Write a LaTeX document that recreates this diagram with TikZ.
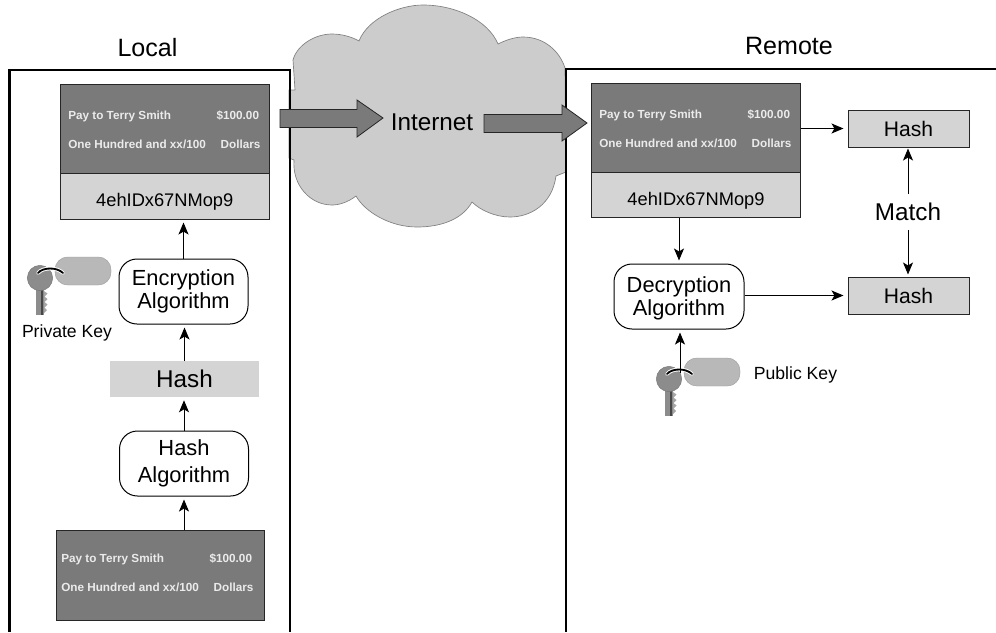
\documentclass[tikz,border=0pt]{standalone}
\usepackage{fontspec}
\setmainfont{Liberation Sans}
\usetikzlibrary{arrows.meta,calc}
\tikzset{
  x=0.75pt,y=-0.75pt,
  frameline/.style={draw=black,line width=1.6pt},
  sheet/.style={draw=black!85,fill=black!52,line width=0.75pt},
  sig/.style={draw=black!85,fill=black!17,line width=0.75pt,font=\fontsize{13.7}{15}\selectfont},
  algo/.style={draw=black,fill=white,rounded corners=13.5pt,line width=0.75pt,inner sep=0pt,align=center,font=\fontsize{16.4}{17.5}\selectfont},
  hashbox/.style={draw=black!85,fill=black!17,line width=0.75pt,inner sep=0pt,font=\fontsize{15.8}{17}\selectfont},
  lbl/.style={inner sep=0pt,font=\fontsize{18.2}{20}\selectfont},
  keylbl/.style={inner sep=0pt,font=\fontsize{13.2}{15}\selectfont},
  chk/.style={inner sep=0pt,text=black!8,font=\fontsize{8.8}{10}\selectfont\bfseries},
  conn/.style={draw=black,line width=0.75pt,-{Stealth[length=9pt,width=7.5pt,inset=2.2pt]}},
  bigarrow/.style={draw=black!85,fill=black!52,line width=0.6pt},
  cloudshape/.style={draw=black!50,fill=black!20,line width=0.5pt},
}
% #1 id, #2 corner, #3 first baseline, #4 second baseline
\newcommand{\chequetext}[4]{%
  \node[chk,anchor=base west] (a#1) at ($(#2)+(8,#3)$) {Pay to Terry Smith};
  \node[chk,anchor=base east] (b#1) at ($(#2)+(199.3,#3)$) {\$100.00};
  \node[chk,anchor=base west] (c#1) at ($(#2)+(8,#4)$) {One Hundred and xx/100};
  \node[chk,anchor=base east] (d#1) at ($(#2)+(200.7,#4)$) {Dollars};
}
% key: #1 = head centre
\newcommand{\keyicon}[1]{%
\begin{scope}[shift={(#1)}]
  \fill[black!28,draw=black!40,line width=0.3pt,rounded corners=9.5pt] (15,-21) rectangle (71,7);
  \fill[black!45] (-4,0) rectangle (4,37);
  \fill[black!72] (0.5,10) rectangle (3,37);
  \fill[black!35] (4,13) -- (7.5,15.5) -- (4.5,18.5) -- (7.5,21) -- (4.5,24) -- (7.5,26.5) -- (4.5,29.5) -- (7,32) -- (4,35) -- cycle;
  \fill[black!45,draw=black!55,line width=0.3pt] (0,0) circle (12.7);
  \draw[white,line width=2.8pt,line cap=round] (-2,-5) .. controls (3,-11) and (17,-11) .. (23,-5);
  \draw[black,line width=1.4pt,line cap=round] (-2,-5) .. controls (3,-11) and (17,-11) .. (23,-5);
\end{scope}}
\begin{document}
\begin{tikzpicture}
\useasboundingbox (0,0) rectangle (996,632);
% cloud
\path[cloudshape] (359,41)
  .. controls (368,18) and (400,5) .. (423,5)
  .. controls (455,5) and (488,20) .. (498,44)
  .. controls (506,40) and (515,37) .. (523,37)
  .. controls (545,37) and (560,52) .. (565,68)
  -- (566,172) -- (556,176)
  .. controls (552,205) and (530,217) .. (510,217)
  .. controls (495,217) and (480,210) .. (472,202)
  .. controls (462,220) and (440,227) .. (417,227)
  .. controls (390,227) and (365,212) .. (356,196)
  .. controls (347,203) and (338,205) .. (332,205)
  .. controls (310,205) and (292,185) .. (294,160)
  -- (289,158) -- (289,90) -- (295,90) -- (293,60)
  .. controls (297,45) and (315,34) .. (332,34)
  .. controls (342,34) and (352,37) .. (359,41) -- cycle;
% frames
\draw[frameline] (9.5,632) -- (9.5,70) -- (290,70) -- (290,632);
\draw[frameline] (566,632) -- (566,69) -- (996,69);
\node[lbl,font=\fontsize{18.8}{20}\selectfont] (local) at (147.5,48) {Local};
\node[lbl,font=\fontsize{18.8}{20}\selectfont] (remote) at (789,46) {Remote};
% big arrows
\path[bigarrow] (280,109.5) -- (357,109.5) -- (357,100) -- (383,118) -- (357,137) -- (357,127.5) -- (280,127.5) -- cycle;
\path[bigarrow] (484,114.5) -- (562,114.5) -- (562,105) -- (587,123) -- (562,141) -- (562,132.5) -- (484,132.5) -- cycle;
\node[lbl] (internet) at (432,122) {Internet};
% local cheque
\node[sheet,minimum width=208.5*0.75pt,minimum height=89*0.75pt,inner sep=0pt,anchor=north west] (lc) at (60,84) {};
\node[sig,minimum width=208.5*0.75pt,minimum height=45.5*0.75pt,inner sep=0pt,anchor=north west] (ls) at (60,173) {\raisebox{-7.6pt}[0pt][0pt]{4ehIDx67NMop9}};
\chequetext{l}{60,84}{35}{64}
% remote cheque
\node[sheet,minimum width=209*0.75pt,minimum height=89*0.75pt,inner sep=0pt,anchor=north west] (rc) at (591,83) {};
\node[sig,minimum width=209*0.75pt,minimum height=45*0.75pt,inner sep=0pt,anchor=north west] (rs) at (591,172) {\raisebox{-7.6pt}[0pt][0pt]{4ehIDx67NMop9}};
\chequetext{r}{591,83}{35}{64}
% bottom cheque
\node[sheet,minimum width=208*0.75pt,minimum height=90*0.75pt,inner sep=0pt,anchor=north west] (bc) at (55.5,530) {};
\chequetext{b}{53,530}{32}{61}
% left column
\node[algo,minimum width=129*0.75pt,minimum height=65*0.75pt] (enc) at (183.5,291.5) {Encryption\\Algorithm};
\node[lbl,fill=black!17,minimum width=149*0.75pt,minimum height=36*0.75pt] (lh) at (184.5,379) {Hash};
\node[algo,minimum width=129*0.75pt,minimum height=65*0.75pt] (ha) at (184,463.5) {Hash\\[2.5pt]Algorithm};
% right column
\node[algo,minimum width=130*0.75pt,minimum height=65*0.75pt] (dec) at (679,296.5) {\rule{0pt}{15pt}Decryption\\Algorithm};
\node[hashbox,minimum width=121*0.75pt,minimum height=37*0.75pt] (h1) at (908.5,128.5) {Hash};
\node[hashbox,minimum width=121*0.75pt,minimum height=37*0.75pt] (h2) at (908.5,295.5) {Hash};
\node[lbl] (match) at (908,212) {Match};
% keys
\keyicon{40,278}
\keyicon{669,379}
\node[keylbl] (pk) at (67,333) {Private Key};
\node[keylbl] (pub) at (795.5,374.5) {Public Key};
\coordinate (keytop) at (680,373);
% connectors
\draw[conn,shorten >=3*0.75pt] (enc.north) -- (enc.north |- ls.south);
\draw[conn,shorten >=3*0.75pt] (lh.north) -- (lh.north |- enc.south);
\draw[conn,shorten >=3*0.75pt] (ha.north) -- (ha.north |- lh.south);
\draw[conn,shorten >=3*0.75pt] (ha.south |- bc.north) -- (ha.south);
\draw[conn,shorten >=3*0.75pt] (dec.north |- rs.south) -- (dec.north);
\draw[conn,shorten >=3*0.75pt] (keytop) -- (keytop |- dec.south);
\draw[conn,shorten >=4*0.75pt] (rc.east |- h1.west) -- (h1.west);
\draw[conn,shorten >=4*0.75pt] (dec.east |- h2.west) -- (h2.west);
\draw[conn,shorten <=9*0.75pt,shorten >=1*0.75pt] (match.north) -- (match.north |- h1.south);
\draw[conn,shorten <=9*0.75pt,shorten >=2*0.75pt] (match.south) -- (match.south |- h2.north);
\end{tikzpicture}
\end{document}
